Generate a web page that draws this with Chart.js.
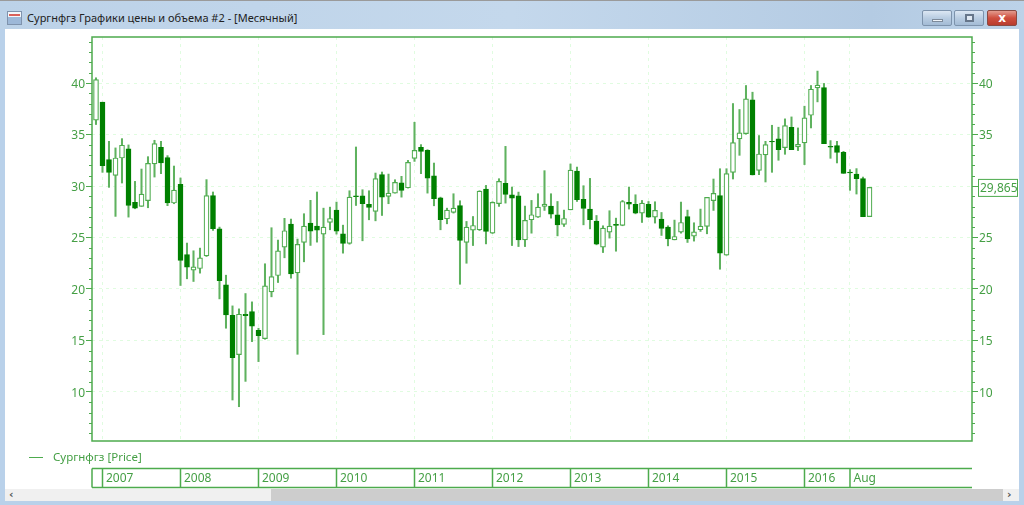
<!DOCTYPE html>
<html lang="ru">
<head>
<meta charset="utf-8">
<title>Сургнфгз</title>
<script src="https://cdn.jsdelivr.net/npm/chart.js@4/dist/chart.umd.min.js"></script>
<style>
    html, body { margin: 0; padding: 0; width: 1024px; height: 505px; overflow: hidden; background: #b9d1ea; font-family: "Noto Sans", sans-serif; }
    #titlebar { position: absolute; left: 0; top: 0; width: 1024px; height: 29px; background: linear-gradient(to right, #bcd2e8 0%, #c4d8ec 50%, #b4cbe3 85%, #bcd2e8 100%); border-top: 1px solid #9a9a9a; box-sizing: border-box; }
    #icon { position: absolute; left: 7px; top: 10px; width: 13px; height: 12px; background: linear-gradient(#f3f6fa 0 45%, #9db8d8 45%); border: 1px solid #7f93ad; }
    #icon:after { content: ""; position: absolute; left: 1px; top: 2px; width: 11px; height: 2px; background: #d9605a; }
    #wintitle { position: absolute; left: 27px; top: 9px; font-size: 11px; line-height: 16px; color: #222; white-space: nowrap; }
    .btn { position: absolute; top: 9px; height: 16px; border: 1px solid #7d93ac; border-radius: 2px; box-sizing: border-box; background: linear-gradient(#dce7f3, #b9cde2 50%, #a3bbd5); }
    #btnmin { left: 922px; width: 30px; }
    #btnmin:after { content: ""; position: absolute; left: 9px; top: 8px; width: 11px; height: 3px; background: #eef3f8; border: 1px solid #7d8a9a; box-sizing: border-box; }
    #btnmax { left: 954px; width: 30px; }
    #btnmax:after { content: ""; position: absolute; left: 10px; top: 3px; width: 9px; height: 8px; border: 2px solid #66768a; background: #dfe8f2; box-sizing: border-box; }
    #btnclose { left: 987px; width: 30px; border-color: #8a4a42; background: linear-gradient(#e39b8e, #cf4f3f 50%, #b83c2e); color: #fff; font: bold 12px/14px "DejaVu Sans", sans-serif; text-align: center; }
    #client { position: absolute; left: 5px; top: 29px; width: 1014px; height: 460px; background: #fff; }
    #scrollbar { position: absolute; left: 5px; top: 489px; width: 1014px; height: 12px; background: #f0f0f0; }
    #thumb { position: absolute; left: 266px; top: 0; width: 732px; height: 12px; background: #cdcdcd; }
    .arrow { position: absolute; top: -2px; font: bold 11px/15px "DejaVu Sans", sans-serif; color: #555; }
    canvas { position: absolute; left: 0; top: 0; }
</style>
</head>
<body>
<div id="titlebar">
    <div id="icon"></div>
    <div id="wintitle">Сургнфгз Графики цены и объема #2 - [Месячный]</div>
    <div class="btn" id="btnmin"></div>
    <div class="btn" id="btnmax"></div>
    <div class="btn" id="btnclose">x</div>
</div>
<div id="client"></div>
<div id="scrollbar">
    <div id="thumb"></div>
    <div class="arrow" style="left:4px">&lsaquo;</div>
    <div class="arrow" style="left:1002px">&rsaquo;</div>
</div>
<canvas id="priceChart" width="1024" height="505"></canvas>
<script>
// monthly candles, Dec 2006 - Nov 2016
const open = [
    36.39, 38.14, 32.56, 31.04, 32.72, 33.6, 28.41, 28.02, 28.57, 32.14, 33.76, 32.76,
    28.35, 30.16, 23.35, 21.83, 21.99, 23.22, 29.06, 25.85, 20.4, 17.45, 13.63, 17.55,
    17.81, 15.99, 15.18, 19.72, 21.31, 24.07, 26.3, 21.57, 24.52, 26.4, 26.11, 25.33,
    26.46, 27.66, 25.36, 24.42, 29.05, 29.05, 28.21, 27.53, 31.1, 28.99, 29.31, 30.32,
    29.83, 32.69, 33.76, 33.46, 31.0, 28.86, 26.82, 27.43, 28.11, 24.52, 25.71, 25.75,
    29.7, 25.42, 28.28, 30.25, 29.15, 29.05, 24.77, 26.72, 26.98, 28.02, 28.05, 27.21,
    26.27, 27.69, 31.45, 28.7, 27.76, 26.59, 24.06, 25.52, 26.27, 26.17, 28.41, 28.21,
    27.37, 28.21, 26.98, 26.79, 26.01, 24.77, 25.52, 27.04, 25.13, 25.75, 26.07, 28.57,
    29.06, 23.28, 31.33, 34.57, 35.09, 38.37, 31.52, 33.02, 34.34, 34.57, 33.73, 35.71,
    33.79, 34.18, 36.87, 39.53, 39.57, 33.86, 33.92, 33.27, 31.36, 31.17, 30.71, 27.02
];
const close = [
    40.34, 31.98, 31.33, 32.72, 33.96, 28.12, 27.86, 29.22, 32.2, 34.12, 32.24, 28.35,
    29.61, 22.77, 22.12, 22.15, 23.03, 29.06, 25.85, 20.82, 17.48, 13.33, 17.55, 17.42,
    16.38, 15.47, 20.31, 21.21, 23.71, 25.66, 21.47, 24.33, 26.11, 25.62, 25.72, 26.01,
    26.85, 25.62, 24.42, 28.92, 28.96, 28.28, 27.92, 30.71, 28.92, 29.31, 30.35, 29.57,
    32.29, 33.46, 33.37, 30.77, 28.76, 26.72, 27.66, 27.85, 24.71, 26.01, 26.17, 29.51,
    25.58, 28.41, 30.45, 29.18, 28.83, 24.77, 26.66, 27.21, 27.95, 28.24, 27.27, 26.23,
    26.85, 31.55, 28.67, 27.82, 26.72, 24.35, 25.91, 26.1, 26.17, 28.5, 28.24, 27.37,
    28.34, 26.98, 27.63, 25.88, 24.87, 25.1, 26.46, 24.87, 25.55, 26.1, 28.89, 29.28,
    23.48, 31.2, 34.22, 35.16, 38.46, 31.07, 33.11, 34.02, 34.28, 33.53, 35.87, 33.53,
    34.05, 36.62, 39.4, 39.79, 34.12, 33.76, 33.27, 31.23, 31.26, 30.71, 27.02, 29.865
];
const high = [
    40.51, 38.14, 34.34, 33.7, 34.6, 33.99, 30.45, 31.65, 32.85, 34.44, 34.34, 32.95,
    31.94, 30.78, 24.46, 23.71, 23.97, 30.62, 29.42, 26.01, 21.34, 18.36, 18.07, 19.56,
    18.75, 16.19, 22.45, 25.95, 24.75, 26.86, 26.79, 24.85, 27.31, 28.61, 29.42, 27.85,
    27.95, 28.44, 26.2, 29.54, 33.79, 29.64, 29.54, 31.26, 31.36, 31.16, 30.61, 30.94,
    32.49, 36.19, 34.02, 33.53, 32.23, 28.92, 27.85, 29.25, 28.57, 26.56, 27.04, 29.54,
    30.06, 28.47, 30.71, 33.85, 29.9, 29.41, 28.05, 28.6, 29.25, 31.49, 29.25, 28.5,
    27.66, 32.14, 31.84, 30.03, 30.74, 27.14, 26.14, 27.6, 26.88, 28.6, 29.9, 29.15,
    28.6, 28.5, 28.47, 27.43, 26.14, 26.69, 28.44, 27.66, 26.43, 27.76, 28.89, 30.68,
    31.68, 31.68, 38.01, 37.43, 39.76, 39.11, 34.9, 34.34, 35.9, 35.71, 36.52, 36.71,
    35.64, 37.75, 39.76, 41.16, 39.96, 34.41, 34.34, 33.37, 31.59, 31.69, 30.87, 29.865
];
const low = [
    35.97, 31.33, 29.87, 27.05, 30.29, 26.98, 27.79, 28.02, 27.89, 30.87, 31.2, 28.09,
    28.28, 20.34, 20.99, 20.73, 21.54, 23.16, 25.69, 19.04, 16.19, 9.22, 8.57, 11.03,
    14.89, 12.95, 15.12, 19.24, 20.63, 23.03, 21.05, 13.66, 22.64, 24.23, 24.55, 15.57,
    25.75, 25.33, 23.48, 24.35, 28.11, 24.68, 26.72, 26.62, 27.14, 28.28, 29.31, 28.92,
    29.8, 32.39, 31.2, 29.31, 28.08, 25.75, 26.33, 27.37, 20.46, 22.5, 24.22, 25.68,
    24.38, 25.39, 28.02, 28.34, 24.22, 24.12, 24.12, 25.42, 26.95, 27.63, 26.88, 25.16,
    26.07, 27.69, 28.5, 26.23, 25.84, 24.29, 23.54, 24.94, 23.67, 26.14, 27.76, 27.3,
    26.46, 26.95, 26.4, 25.2, 24.19, 24.77, 25.42, 24.52, 24.65, 25.59, 25.36, 27.63,
    21.92, 23.28, 30.68, 32.98, 35.03, 31.07, 31.1, 30.39, 31.33, 32.5, 33.08, 33.53,
    33.44, 32.08, 35.64, 38.17, 34.12, 32.69, 32.24, 31.23, 29.58, 29.22, 27.02, 27.02
];

// bottom strip: label and the candle index where its cell starts
const stripLabels = ["2007", "2008", "2009", "2010", "2011", "2012", "2013", "2014", "2015", "2016", "Aug"];
const stripStarts = [1, 13, 25, 37, 49, 61, 73, 85, 97, 109, 116];
const priceTicks = [10, 15, 20, 25, 30, 35, 40];
const minorTicks = [6, 7, 8, 9, 11, 12, 13, 14, 16, 17, 18, 19, 21, 22, 23, 24, 26, 27, 28, 29, 31, 32, 33, 34, 36, 37, 38, 39, 41, 42, 43, 44];
const lastPrice = "29,865";
const seriesName = "Сургнфгз [Price]";

const GREEN = "#008000";
const LINE = "#4dab4d";
const WICK = "#5fb25f";
const TEXT = "#459f45";
const GRID = "#e0fce0";
const FONT = '12px "Noto Sans", sans-serif';

// frame, minor ticks, price box, legend and year strip
const decorations = {
    id: "decorations",
    afterDraw(chart) {
        const { ctx, chartArea: area, scales } = chart;
        ctx.save();
        ctx.strokeStyle = LINE;
        ctx.lineWidth = 1.5;
        ctx.strokeRect(area.left, area.top, area.right - area.left, area.bottom - area.top);

        ctx.lineWidth = 1;
        ctx.beginPath();
        minorTicks.forEach((v) => {
            const y = Math.round(scales.y.getPixelForValue(v)) + 0.5;
            ctx.moveTo(area.left - 3, y);
            ctx.lineTo(area.left, y);
            ctx.moveTo(area.right, y);
            ctx.lineTo(area.right + 3, y);
        });
        ctx.stroke();

        // last price box
        const py = scales.y.getPixelForValue(close[close.length - 1]);
        ctx.fillStyle = "#fff";
        ctx.fillRect(978.5, py - 8, 39, 17);
        ctx.strokeRect(978.5, py - 8, 39, 17);
        ctx.fillStyle = TEXT;
        ctx.font = FONT;
        ctx.textBaseline = "middle";
        ctx.textAlign = "left";
        ctx.fillText(lastPrice, 980, py + 1);

        // legend
        ctx.beginPath();
        ctx.moveTo(29, 457.5);
        ctx.lineTo(43, 457.5);
        ctx.stroke();
        ctx.font = '11.5px "Noto Sans", sans-serif';
        ctx.fillText(seriesName, 53, 458);

        // strip under the plot
        const top = 468.5, bottom = 487.5;
        ctx.font = FONT;
        ctx.lineWidth = 1.5;
        ctx.beginPath();
        ctx.moveTo(area.left, top);
        ctx.lineTo(area.right, top);
        ctx.moveTo(area.left, bottom);
        ctx.lineTo(area.right, bottom);
        ctx.moveTo(area.left, top);
        ctx.lineTo(area.left, bottom);
        stripStarts.forEach((idx, n) => {
            const x = scales.x.getPixelForValue(idx);
            ctx.moveTo(x, top);
            ctx.lineTo(x, bottom);
            ctx.fillText(stripLabels[n], x + 3.5, 478.5);
        });
        ctx.stroke();
        ctx.restore();
    },
};

const bodies = open.map((v, i) => ({ x: i, y: [v, close[i]] }));
const wicks = low.map((v, i) => ({ x: i, y: [v, high[i]] }));

const priceAxis = {
    type: "linear",
    min: 5.24,
    max: 44.47,
    afterBuildTicks: (scale) => {
        scale.ticks = priceTicks.map((v) => ({ value: v }));
    },
    ticks: {
        color: TEXT,
        font: { family: "Noto Sans", size: 12 },
        padding: 1,
        labelOffset: 1.5,
        autoSkip: false,
    },
    border: { display: false, dash: [3, 4] },
};

new Chart(document.getElementById("priceChart"), {
    type: "bar",
    data: {
        datasets: [
            {
                label: "Body",
                data: bodies,
                order: 1,
                barThickness: 5,
                borderWidth: 1.2,
                borderSkipped: false,
                borderColor: open.map((v, i) => (close[i] > v ? LINE : GREEN)),
                backgroundColor: open.map((v, i) => (close[i] > v ? "#ffffff" : GREEN)),
            },
            {
                label: "Wick",
                data: wicks,
                order: 2,
                barThickness: 1.4,
                borderWidth: 0,
                backgroundColor: WICK,
            },
        ],
    },
    options: {
        responsive: false,
        animation: false,
        grouped: false,
        layout: { padding: { top: 37, bottom: 64 } },
        scales: {
            x: {
                type: "linear",
                offset: false,
                min: -0.615,
                max: 134.77,
                afterBuildTicks: (scale) => {
                    scale.ticks = stripStarts.map((v) => ({ value: v }));
                },
                afterFit: (scale) => {
                    scale.height = 0;
                },
                ticks: { display: false },
                grid: { offset: false, color: GRID, drawTicks: false },
                border: { display: false, dash: [3, 4] },
            },
            y: {
                ...priceAxis,
                position: "left",
                afterFit: (scale) => {
                    scale.width = 92;
                },
                grid: { color: GRID, tickColor: LINE, tickLength: 6 },
            },
            y2: {
                ...priceAxis,
                position: "right",
                afterFit: (scale) => {
                    scale.width = 52;
                },
                grid: { drawOnChartArea: false, tickColor: LINE, tickLength: 6 },
            },
        },
        plugins: {
            legend: { display: false },
            tooltip: { enabled: false },
        },
    },
    plugins: [decorations],
});
</script>
</body>
</html>
